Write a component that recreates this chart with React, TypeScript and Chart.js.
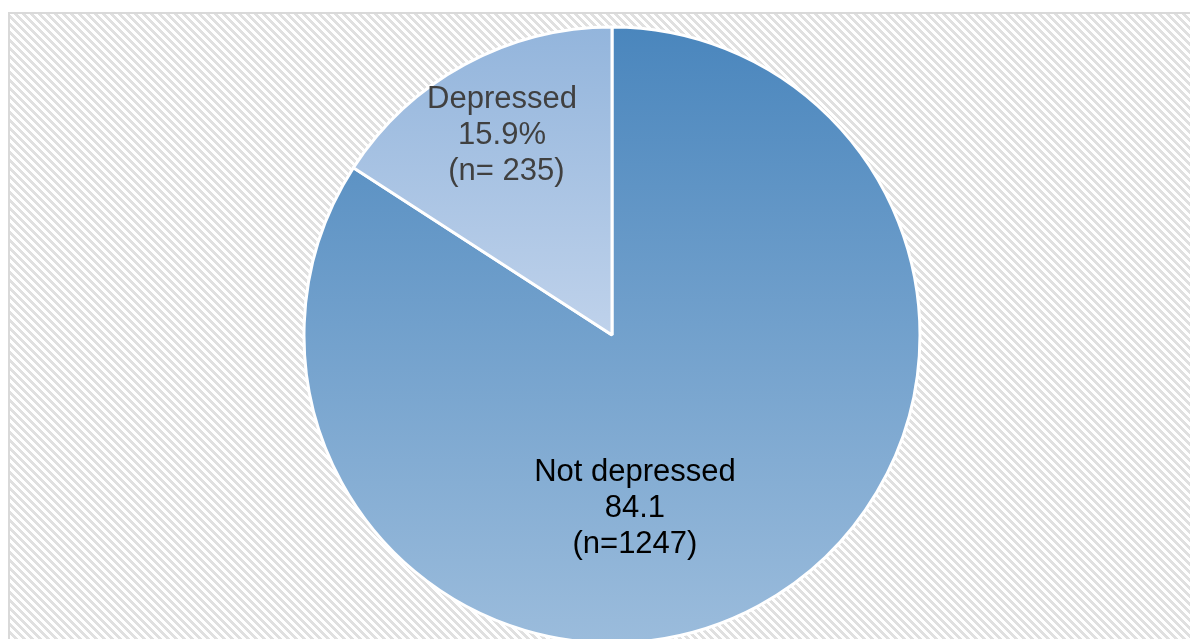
import React, { useEffect, useRef } from "react";
import { Chart, registerables } from "chart.js";

Chart.register(...registerables);

// Survey groups and their counts
const categories = ["Not depressed", "Depressed"];
const counts = [1247, 235];
const percentSuffix = ["", "%"];
const countLabels = ["(n=1247)", " (n= 235)"];

// Gradient stops per slice (top -> bottom of the slice)
const sliceTopColors = ["#4a86bd", "#93b5dc"];
const sliceBottomColors = ["#9bbcdc", "#bfd2eb"];
const labelColors = ["#000000", "#404040"];

// Label anchors: angular shift from slice mid-angle (deg) and distance as a fraction of the radius
const labelAngleShift = [20.9, 0];
const labelDistance = [0.56, 0.747];

const PIE_RADIUS = 308;
const FONT = '31px "Liberation Sans", Arial, sans-serif';
const LINE_HEIGHT = 36;
const TEXT_NUDGE = 3;

function makeHatch(): CanvasPattern | string {
  const c = document.createElement("canvas");
  c.width = 8;
  c.height = 8;
  const g = c.getContext("2d");
  if (!g) return "#f2f2f2";
  const img = g.createImageData(8, 8);
  for (let y = 0; y < 8; y++) {
    for (let x = 0; x < 8; x++) {
      const k = (((x - y) % 8) + 8) % 8;
      const v = k < 4 ? 0xe0 : 0xff;
      const i = (y * 8 + x) * 4;
      img.data[i] = v;
      img.data[i + 1] = v;
      img.data[i + 2] = v;
      img.data[i + 3] = 255;
    }
  }
  g.putImageData(img, 0, 0);
  const p = g.createPattern(c, "repeat");
  return p || "#f2f2f2";
}

// vertical extent of a sector (clockwise from startAngle to endAngle)
function sectorYRange(cy: number, r: number, a0: number, a1: number) {
  let min = cy;
  let max = cy;
  const pts = [a0, a1];
  for (let k = -2; k <= 2; k++) {
    const top = -Math.PI / 2 + k * 2 * Math.PI;
    const bot = Math.PI / 2 + k * 2 * Math.PI;
    if (top >= a0 && top <= a1) pts.push(top);
    if (bot >= a0 && bot <= a1) pts.push(bot);
  }
  for (const a of pts) {
    const y = cy + r * Math.sin(a);
    min = Math.min(min, y);
    max = Math.max(max, y);
  }
  return [min, max];
}

const backgroundPlugin = {
  id: "hatchBackground",
  beforeDraw(chart: any) {
    const { ctx, width, height } = chart;
    ctx.save();
    ctx.fillStyle = "#ffffff";
    ctx.fillRect(0, 0, width, height);
    ctx.fillStyle = makeHatch();
    ctx.fillRect(10, 14, width - 10, height - 14);
    ctx.fillStyle = "#d9d9d9";
    ctx.fillRect(8, 12, width - 8, 2);
    ctx.fillRect(8, 12, 2, height - 12);
    ctx.restore();
  },
};

const labelPlugin = {
  id: "sliceLabels",
  afterDatasetsDraw(chart: any) {
    const { ctx } = chart;
    const meta = chart.getDatasetMeta(0);
    const total = counts.reduce((a, b) => a + b, 0);
    ctx.save();
    ctx.font = FONT;
    ctx.textAlign = "center";
    ctx.textBaseline = "middle";
    meta.data.forEach((arc: any, i: number) => {
      const { x, y, startAngle, endAngle, outerRadius } = arc.getProps(
        ["x", "y", "startAngle", "endAngle", "outerRadius"],
        true
      );
      const mid = (startAngle + endAngle) / 2 + (labelAngleShift[i] * Math.PI) / 180;
      const d = outerRadius * labelDistance[i];
      const lx = x + Math.cos(mid) * d;
      const ly = y + Math.sin(mid) * d + TEXT_NUDGE;
      const pct = ((counts[i] / total) * 100).toFixed(1) + percentSuffix[i];
      const lines = [categories[i], pct, countLabels[i]];
      ctx.fillStyle = labelColors[i];
      lines.forEach((t, j) => {
        ctx.fillText(t, lx, ly + (j - 1) * LINE_HEIGHT);
      });
    });
    ctx.restore();
  },
};

export default function App() {
  const ref = useRef<HTMLCanvasElement>(null);

  useEffect(() => {
    if (!ref.current) return;
    const total = counts.reduce((a, b) => a + b, 0);
    const chart = new Chart(ref.current, {
      type: "pie",
      data: {
        labels: categories,
        datasets: [
          {
            data: counts,
            borderColor: "#ffffff",
            borderWidth: 3,
            clip: false,
            backgroundColor: (context: any) => {
              const c = context.chart;
              const area = c.chartArea;
              const i = context.dataIndex;
              if (!area || i === undefined) return sliceTopColors[i || 0];
              const cy = (area.top + area.bottom) / 2;
              let before = 0;
              for (let k = 0; k < i; k++) before += counts[k];
              const a0 = -Math.PI / 2 + (2 * Math.PI * before) / total;
              const a1 = a0 + (2 * Math.PI * counts[i]) / total;
              const [y0, y1] = sectorYRange(cy, PIE_RADIUS, a0, a1);
              const g = c.ctx.createLinearGradient(0, y0, 0, y1);
              g.addColorStop(0, sliceTopColors[i]);
              g.addColorStop(1, sliceBottomColors[i]);
              return g;
            },
          } as any,
        ],
      },
      options: {
        animation: false,
        responsive: false,
        radius: PIE_RADIUS,
        layout: { padding: { left: 34, top: 31, right: 0, bottom: 0 } },
        plugins: {
          legend: { display: false },
          tooltip: { enabled: false },
        },
      } as any,
      plugins: [backgroundPlugin, labelPlugin],
    });
    return () => chart.destroy();
  }, []);

  return (
    <div style={{ position: "fixed", left: 0, top: 0, width: 1190, height: 639, overflow: "hidden" }}>
      <canvas ref={ref} width={1190} height={639} style={{ display: "block" }} />
    </div>
  );
}
